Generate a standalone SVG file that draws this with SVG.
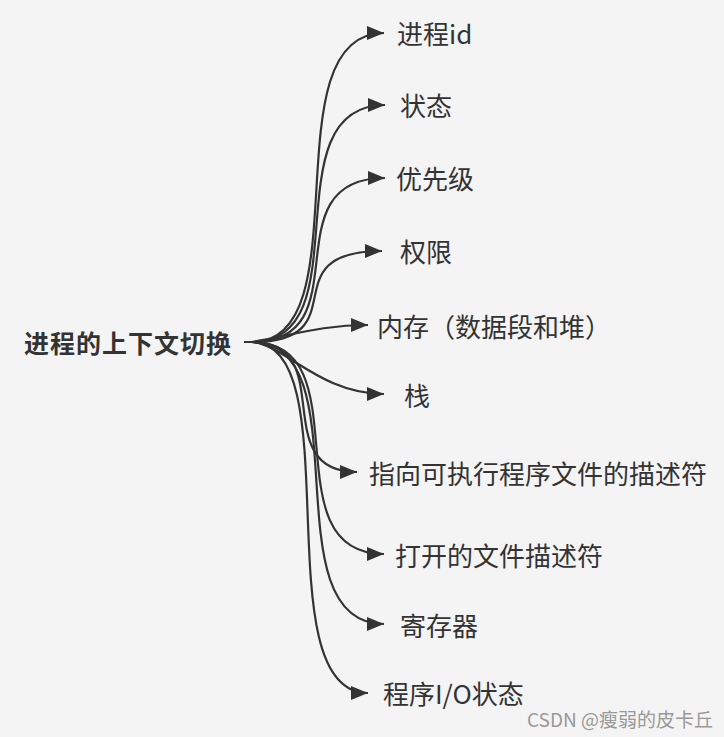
<svg xmlns="http://www.w3.org/2000/svg" width="724" height="737" viewBox="0 0 724 737">
<style>
.bg{fill:#f4f4f4}
.link{fill:none;stroke:#333;stroke-width:2.2}
.t{font-family:"Noto Sans CJK SC","Noto Sans",sans-serif;font-size:26px;fill:#333;dominant-baseline:central}
.root{font-weight:bold;font-size:25px;letter-spacing:1px}
.wm{font-family:"Noto Sans CJK SC","Noto Sans",sans-serif;font-size:19px;fill:#999;dominant-baseline:central}
</style>
<defs>
<marker id="arr" markerUnits="userSpaceOnUse" markerWidth="18" markerHeight="14" refX="17" refY="7" orient="auto">
<path d="M0,0 L17,7 L0,14 z" fill="#333"/>
</marker>
</defs>
<rect class="bg" x="0" y="0" width="724" height="737"/>
<g id="connectors">
<path class="link" marker-end="url(#arr)" d="M244,342 L252,342 C364,342 268,33 384,33"/>
<path class="link" marker-end="url(#arr)" d="M244,342 L252,342 C364,342 268,105 385,105"/>
<path class="link" marker-end="url(#arr)" d="M244,342 L252,342 C364,342 268,178 385,178"/>
<path class="link" marker-end="url(#arr)" d="M244,342 L252,342 C360,342 268,251 382,251"/>
<path class="link" marker-end="url(#arr)" d="M244,342 L252,342 C290,336 320,325 368,325"/>
<path class="link" marker-end="url(#arr)" d="M244,342 L252,342 C285,345 320,394 384,394"/>
<path class="link" marker-end="url(#arr)" d="M244,342 L252,342 C340,342 266,472 357,472"/>
<path class="link" marker-end="url(#arr)" d="M244,342 L252,342 C364,342 268,554 384,554"/>
<path class="link" marker-end="url(#arr)" d="M244,342 L252,342 C364,342 268,624 384,624"/>
<path class="link" marker-end="url(#arr)" d="M244,342 L252,342 C352,342 262,693 368,693"/>
</g>
<g id="root"><text class="t root" x="24" y="342">进程的上下文切换</text></g>
<g id="n1"><text class="t" x="397" y="32">进程id</text></g>
<g id="n2"><text class="t" x="400" y="104">状态</text></g>
<g id="n3"><text class="t" x="396" y="177">优先级</text></g>
<g id="n4"><text class="t" x="400" y="250">权限</text></g>
<g id="n5"><text class="t" x="377" y="325">内存（数据段和堆）</text></g>
<g id="n6"><text class="t" x="404" y="394">栈</text></g>
<g id="n7"><text class="t" x="369" y="472">指向可执行程序文件的描述符</text></g>
<g id="n8"><text class="t" x="395" y="554">打开的文件描述符</text></g>
<g id="n9"><text class="t" x="400" y="624">寄存器</text></g>
<g id="n10"><text class="t" x="383" y="692">程序I/O状态</text></g>
<text class="wm" x="527" y="718">CSDN @瘦弱的皮卡丘</text>
</svg>
